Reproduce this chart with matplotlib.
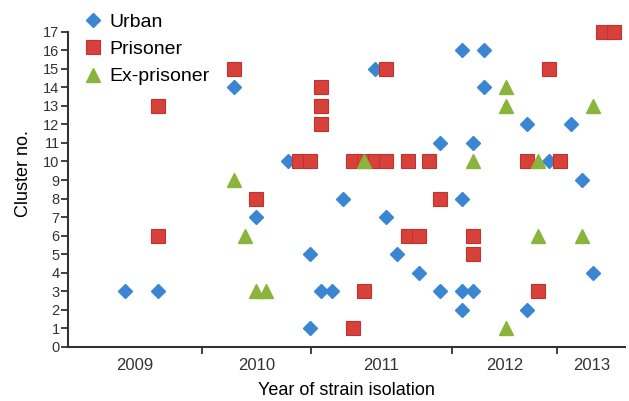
import matplotlib.pyplot as plt

plt.rcParams['font.family'] = ['Liberation Sans', 'DejaVu Sans']

# isolation order (x) and cluster number (y) for each group
urban_x = [0, 3, 10, 12, 15, 17, 17, 18, 19, 20, 23, 24, 25, 27, 29, 29,
           31, 31, 31, 31, 32, 32, 33, 33, 37, 37, 39, 41, 42, 43]
urban_y = [3, 3, 14, 7, 10, 5, 1, 3, 3, 8, 15, 7, 5, 4, 11, 3,
           16, 8, 3, 2, 11, 3, 16, 14, 12, 2, 10, 12, 9, 4]

prisoner_x = [3, 3, 10, 12, 16, 17, 18, 18, 18, 21, 21, 22, 23, 24, 22, 24,
              26, 26, 27, 28, 29, 32, 32, 37, 38, 39, 40, 44, 45]
prisoner_y = [13, 6, 15, 8, 10, 10, 14, 13, 12, 1, 10, 10, 10, 10, 3, 15,
              10, 6, 6, 10, 8, 6, 5, 10, 3, 15, 10, 17, 17]

exprisoner_x = [10, 11, 12, 13, 22, 32, 35, 35, 35, 38, 38, 42, 43]
exprisoner_y = [9, 6, 3, 3, 10, 10, 1, 14, 13, 10, 6, 6, 13]

years = ['2009', '2010', '2011', '2012', '2013']
year_bounds = [-5.25, 7.08, 17.1, 30.08, 39.74, 46.0]

fig = plt.figure(figsize=(6.29, 4.01), dpi=100)
ax = fig.add_axes([0.108, 0.135, 0.886, 0.786])

ax.plot(urban_x, urban_y, 'D', color='#3a86d2', ms=7.2, mec='#3a86d2',
        label='Urban', clip_on=False)
ax.plot(prisoner_x, prisoner_y, 's', color='#d8413a', ms=9.4, mec='#c0342f',
        mew=0.8, label='Prisoner', clip_on=False)
ax.plot(exprisoner_x, exprisoner_y, '^', color='#8ab43c', ms=10, mec='#8ab43c',
        label='Ex-prisoner', clip_on=False)

ax.set_xlim(year_bounds[0], year_bounds[-1])
ax.set_ylim(0, 17)
ax.set_yticks(range(18))

# year boundaries as ticks, year names centred between them
ax.set_xticks(year_bounds[1:-1])
ax.set_xticklabels([])
for i, yr in enumerate(years):
    mid = (year_bounds[i] + year_bounds[i + 1]) / 2
    ax.text(mid, -1.0, yr, ha='center', va='center', fontsize=12,
            color='#333333', transform=ax.transData)

for s in ['top', 'right']:
    ax.spines[s].set_visible(False)
for s in ['left', 'bottom']:
    ax.spines[s].set_linewidth(1.5)
    ax.spines[s].set_color('#333333')
ax.tick_params(axis='both', direction='out', length=5, width=1.3,
               color='#333333', labelcolor='#333333')
ax.tick_params(axis='y', labelsize=10.5, pad=1)

ax.set_ylabel('Cluster no.', fontsize=13, labelpad=8, y=0.55)
ax.set_xlabel('Year of strain isolation', fontsize=13, labelpad=17)

ax.legend(loc='upper left', bbox_to_anchor=(0.014, 1.09), frameon=False,
          fontsize=14, handlelength=0.8, handletextpad=0.45,
          labelspacing=0.5, borderpad=0)

fig.savefig('out.png', dpi=100)
